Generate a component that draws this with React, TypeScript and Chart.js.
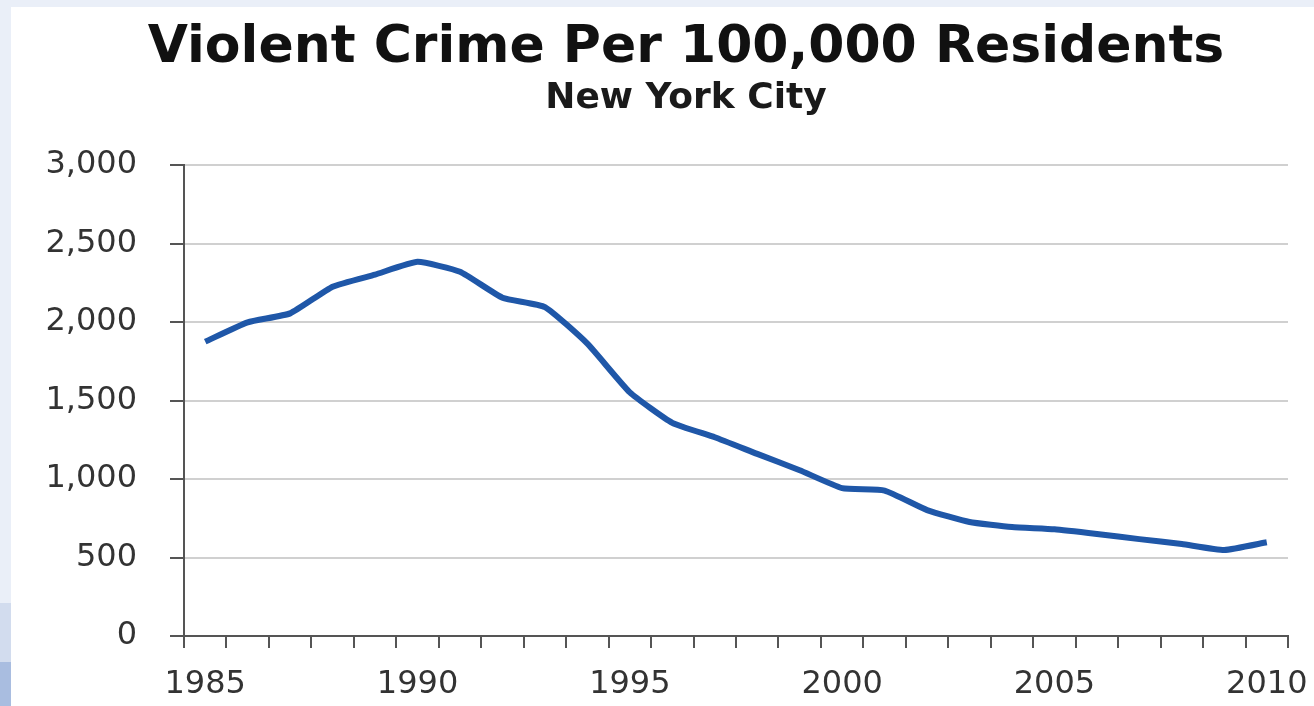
import React, { useEffect, useRef } from "react";
import { Chart, registerables } from "chart.js";

Chart.register(...registerables);

const years: string[] = [
  "1985", "1986", "1987", "1988", "1989", "1990", "1991", "1992", "1993",
  "1994", "1995", "1996", "1997", "1998", "1999", "2000", "2001", "2002",
  "2003", "2004", "2005", "2006", "2007", "2008", "2009", "2010",
];

const violentCrime: number[] = [
  1875, 1998, 2055, 2225, 2302, 2383, 2320, 2155, 2095,
  1862, 1552, 1358, 1266, 1160, 1056, 942, 926, 802,
  726, 694, 680, 650, 617, 586, 548, 597,
];

const labeledYears: string[] = ["1985", "1990", "1995", "2000", "2005", "2010"];

const titleText = "Violent Crime Per 100,000 Residents";
const subtitleText = "New York City";

const yMin = 0;
const yMax = 3000;
const yStep = 500;

// Shifts the title/subtitle boxes so their centre sits over the plot like the reference.
const shiftTitles = {
  id: "shiftTitles",
  afterLayout(chart: any) {
    (chart.boxes || []).forEach((box: any) => {
      const t = box && box.options && box.options.text;
      if (t === titleText || t === subtitleText) {
        box.left = box.left + 73;
      }
    });
  },
};

export default function App() {
  const canvasRef = useRef<HTMLCanvasElement | null>(null);

  useEffect(() => {
    if (!canvasRef.current) return;
    const axisColor = "#555555";
    const chart = new Chart(canvasRef.current, {
      type: "line",
      data: {
        labels: years,
        datasets: [
          {
            label: "Violent crime per 100,000",
            data: violentCrime,
            borderColor: "#1f57a8",
            backgroundColor: "#1f57a8",
            borderWidth: 6,
            pointRadius: 0,
            tension: 0.15,
            borderJoinStyle: "round",
            fill: false,
          },
        ],
      },
      plugins: [shiftTitles],
      options: {
        animation: false,
        responsive: true,
        maintainAspectRatio: false,
        layout: { padding: { left: 0, right: 26, top: 0, bottom: 0 } },
        plugins: {
          legend: { display: false },
          tooltip: { enabled: false },
          title: {
            display: true,
            text: titleText,
            color: "#111111",
            font: { family: "DejaVu Sans", size: 52, weight: "bold", lineHeight: 1.0 },
            padding: { top: 15, bottom: 0 },
          },
          subtitle: {
            display: true,
            text: subtitleText,
            color: "#1a1a1a",
            font: { family: "DejaVu Sans", size: 36, weight: "bold", lineHeight: 1.0 },
            padding: { top: 6.5, bottom: 48.5 },
          },
        },
        scales: {
          x: {
            type: "category",
            offset: true,
            grid: {
              display: true,
              offset: true,
              drawOnChartArea: false,
              drawTicks: true,
              tickLength: 12,
              color: axisColor,
              lineWidth: 2,
            },
            border: { display: true, color: axisColor, width: 2 },
            ticks: {
              autoSkip: false,
              maxRotation: 0,
              minRotation: 0,
              padding: 17,
              color: "#333333",
              font: { family: "DejaVu Sans", size: 32 },
              callback: function (this: any, _v: any, index: number) {
                const lab = years[index];
                return labeledYears.includes(lab) ? lab : "";
              },
            },
            afterFit: (scale: any) => {
              scale.height = 70;
              scale.paddingLeft = 0;
              scale.paddingRight = 0;
            },
          },
          y: {
            min: yMin,
            max: yMax,
            grid: {
              color: "#d0d0d0",
              lineWidth: 2,
              tickColor: axisColor,
              tickLength: 14,
              drawTicks: true,
            },
            border: { display: true, color: axisColor, width: 2 },
            ticks: {
              stepSize: yStep,
              padding: 33,
              color: "#333333",
              font: { family: "DejaVu Sans", size: 32 },
              callback: (value: any) => Number(value).toLocaleString("en-US"),
            },
            afterFit: (scale: any) => {
              scale.width = 173;
            },
          },
        },
      },
    });
    return () => chart.destroy();
  }, []);

  return (
    <div
      style={{
        position: "fixed",
        left: 0,
        top: 0,
        width: 1314,
        height: 706,
        background: "#eaeff8",
        overflow: "hidden",
      }}
    >
      <div style={{ position: "absolute", left: 0, top: 603, width: 11, height: 59, background: "#d2dcee" }} />
      <div style={{ position: "absolute", left: 0, top: 662, width: 11, height: 44, background: "#a9bde0" }} />
      <div
        style={{
          position: "absolute",
          left: 11,
          top: 7,
          width: 1303,
          height: 699,
          background: "#ffffff",
        }}
      >
        <canvas ref={canvasRef} />
      </div>
    </div>
  );
}
